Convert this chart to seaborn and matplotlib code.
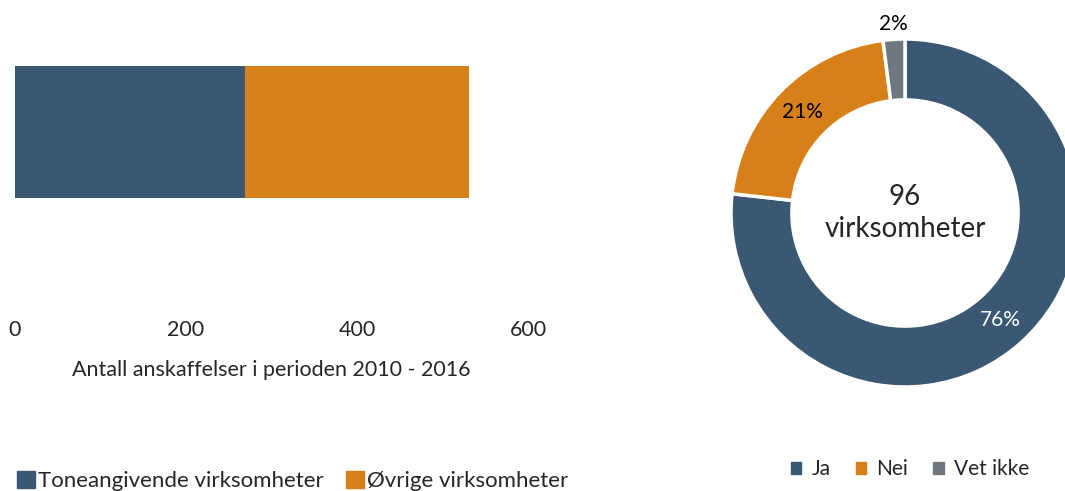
import matplotlib
matplotlib.use("Agg")
import numpy as np
import pandas as pd
import matplotlib.pyplot as plt
from matplotlib.patches import Patch
import seaborn as sns

# ----------------- Data -----------------
bar_series = ["Toneangivende virksomheter", "Øvrige virksomheter"]
bar_values = [269, 262]
bar_xticks = [0, 200, 400, 600]
bar_xlabel = "Antall anskaffelser i perioden 2010 - 2016"

pie_labels = ["Ja", "Nei", "Vet ikke"]
pie_values = [76, 21, 2]
pie_text = ["76%", "21%", "2%"]
center_text = "96\nvirksomheter"

BLUE = "#3A5774"
ORANGE = "#D77F18"
GREY = "#6F7780"
colors = [BLUE, ORANGE, GREY]

sns.set_style("white")
plt.rcParams["font.family"] = ["Lato", "DejaVu Sans"]

W, H = 1065, 491
fig = plt.figure(figsize=(W / 100, H / 100), dpi=100)

# ----------------- Stacked bar -----------------
ax = fig.add_axes([15 / W, (H - 312) / H, 513 / W, 272 / H])
df = pd.DataFrame({"cat": ["alle"], "a": [bar_values[0]], "b": [bar_values[0] + bar_values[1]]})
sns.barplot(data=df, x="b", y="cat", color=ORANGE, width=0.8, ax=ax, saturation=1)
sns.barplot(data=df, x="a", y="cat", color=BLUE, width=0.8, ax=ax, saturation=1)
for p in ax.patches:
    p.set_edgecolor("none")
ax.set_xlim(0, 600)
ax.set_ylim(1.09, -0.558)
ax.set_xticks(bar_xticks)
ax.set_xticklabels([str(t) for t in bar_xticks], fontsize=15.5)
ax.tick_params(axis="x", length=0, pad=6)
ax.set_yticks([])
ax.set_ylabel("")
ax.set_xlabel(bar_xlabel, fontsize=15.5, labelpad=14)
sns.despine(ax=ax, left=True, bottom=True)

handles = [Patch(color=c, label=l) for c, l in zip([BLUE, ORANGE], bar_series)]
fig.legend(handles=handles, loc="center left", bbox_to_anchor=(8 / W, 1 - 481 / H),
           ncol=2, frameon=False, fontsize=16, handlelength=0.8, handleheight=0.8,
           handletextpad=0.15, columnspacing=1.0, borderaxespad=0)

# ----------------- Donut -----------------
cx, cy, r = 905, 213, 174
pax = fig.add_axes([(cx - r) / W, (H - cy - r) / H, 2 * r / W, 2 * r / H])
wedges, _ = pax.pie(pie_values, colors=colors, startangle=90, counterclock=False,
                    wedgeprops=dict(width=0.35, edgecolor="white", linewidth=2.5))
pax.set_xlim(-1, 1)
pax.set_ylim(-1, 1)
for w, t, col, rr in zip(wedges, pie_text, ["white", "black", "black"], [0.825, 0.825, 1.09]):
    ang = np.deg2rad((w.theta1 + w.theta2) / 2)
    pax.text(rr * np.cos(ang), rr * np.sin(ang), t, ha="center", va="center",
             fontsize=15, color=col)
pax.text(0, 0, center_text, ha="center", va="center", fontsize=20, linespacing=1.25)

handles2 = [Patch(color=c, label=l) for c, l in zip(colors, pie_labels)]
fig.legend(handles=handles2, loc="center", bbox_to_anchor=(910 / W, 1 - 469 / H),
           ncol=3, frameon=False, fontsize=15, handlelength=0.5, handleheight=0.5,
           handletextpad=0.5, columnspacing=1.2, borderaxespad=0)

fig.savefig("out.png", dpi=100)
